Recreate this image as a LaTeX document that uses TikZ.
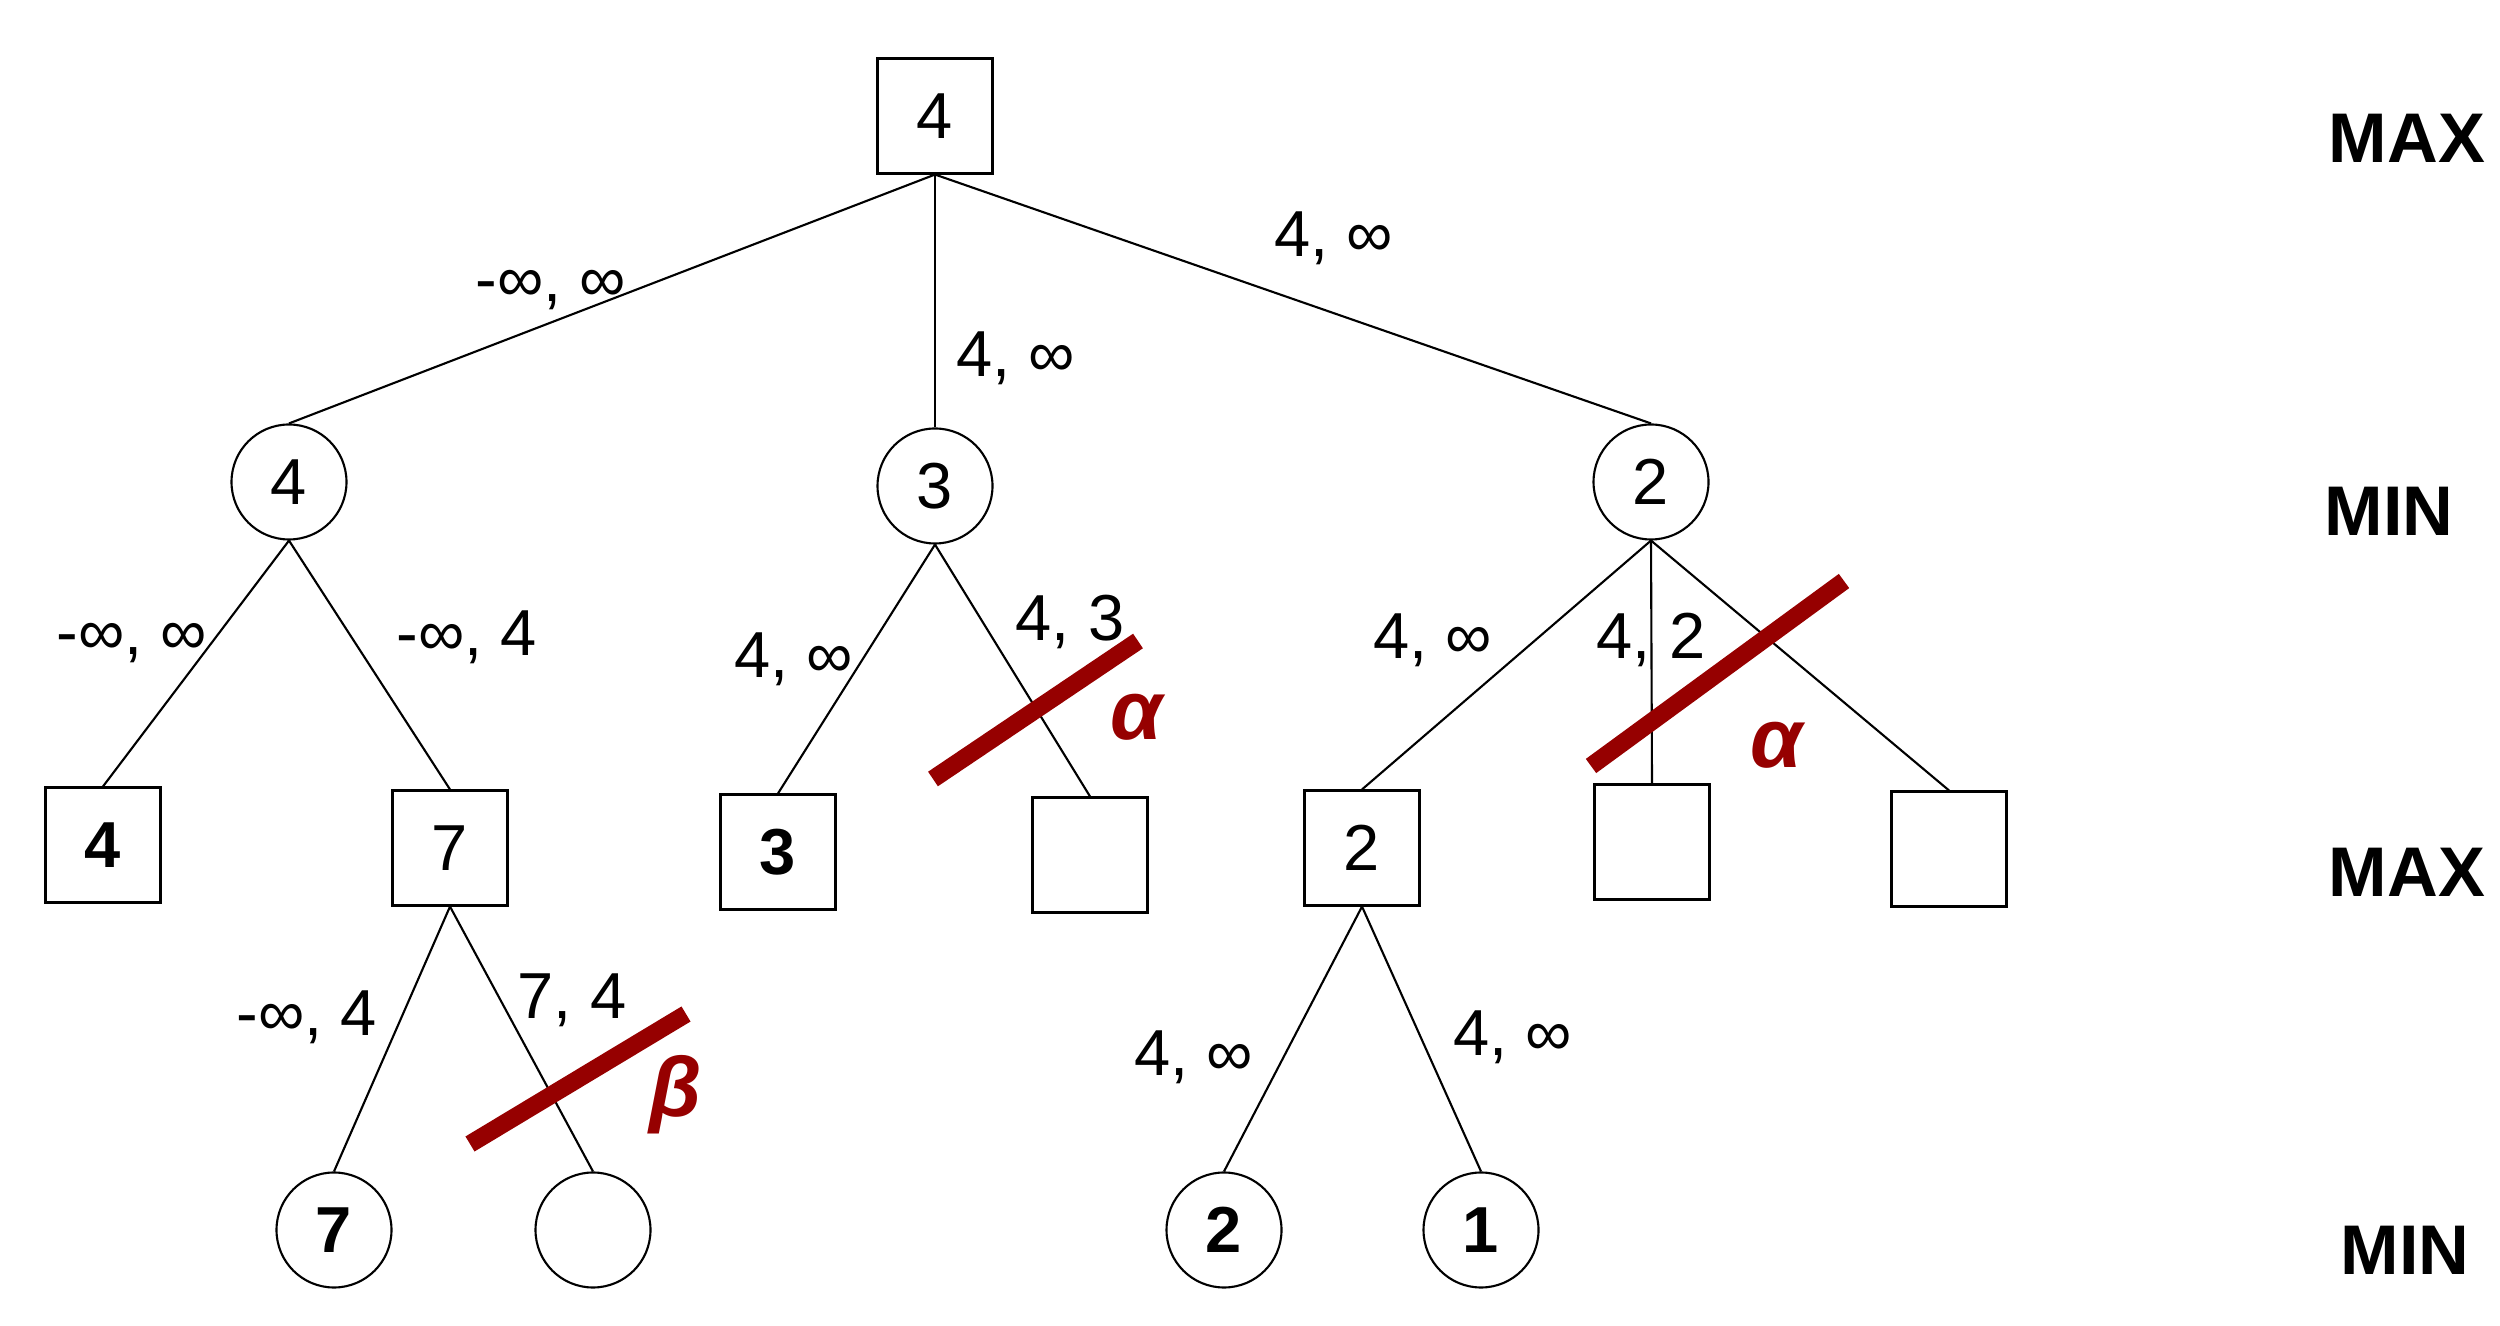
\documentclass[tikz,border=0pt]{standalone}
\usepackage{fontspec}
\setmainfont{Liberation Sans}
\usepackage{tikz}
\definecolor{cutred}{RGB}{150,0,0}
\newcommand{\numfont}{\fontsize{18.5}{22}\selectfont}
\newcommand{\levelfont}{\fontsize{20}{24}\selectfont\bfseries}
\newcommand{\greekfont}{\fontsize{24}{28}\selectfont\bfseries\itshape}
\tikzset{
  maxnode/.style={
    draw,
    rectangle,
    minimum size=11.5mm,
    inner sep=0pt,
    line width=0.6pt,
    font=\numfont
  },
  minnode/.style={
    draw,
    circle,
    minimum size=11.5mm,
    inner sep=0pt,
    line width=0.6pt,
    font=\numfont
  },
  edge/.style={line width=0.6pt},
  lbl/.style={anchor=base, inner sep=0pt, font=\numfont},
  levellbl/.style={inner sep=0pt, font=\levelfont},
  cut/.style={draw=cutred, line width=5pt},
  cutlbl/.style={inner sep=0pt, text=cutred, font=\greekfont}
}

\begin{document}
\begin{tikzpicture}
  \useasboundingbox (0,0) rectangle (25,13.25);

  \node[maxnode] (root) at (9.35,12.09) {4};

  \node[minnode] (m1) at (2.89,8.43) {4};
  \node[minnode] (m2) at (9.35,8.39) {3};
  \node[minnode] (m3) at (16.51,8.43) {2};

  \node[maxnode] (a1) at (1.03,4.80) {\bfseries 4};
  \node[maxnode] (a2) at (4.50,4.77) {7};
  \node[maxnode] (b1) at (7.78,4.73) {\bfseries 3};
  \node[maxnode] (b2) at (10.90,4.70) {};
  \node[maxnode] (c1) at (13.62,4.77) {2};
  \node[maxnode] (c2) at (16.52,4.83) {};
  \node[maxnode] (c3) at (19.49,4.76) {};

  \node[minnode] (a2l) at (3.34,0.95) {\bfseries 7};
  \node[minnode] (a2r) at (5.93,0.95) {};
  \node[minnode] (c1l) at (12.24,0.95) {\bfseries 2};
  \node[minnode] (c1r) at (14.81,0.95) {\bfseries 1};

  \draw[edge] (root.south) -- (m1.north);
  \draw[edge] (root.south) -- (m2.north);
  \draw[edge] (root.south) -- (m3.north);
  \draw[edge] (m1.south) -- (a1.north);
  \draw[edge] (m1.south) -- (a2.north);
  \draw[edge] (m2.south) -- (b1.north);
  \draw[edge] (m2.south) -- (b2.north);
  \draw[edge] (m3.south) -- (c1.north);
  \draw[edge] (m3.south) -- (c2.north);
  \draw[edge] (m3.south) -- (c3.north);
  \draw[edge] (a2.south) -- (a2l.north);
  \draw[edge] (a2.south) -- (a2r.north);
  \draw[edge] (c1.south) -- (c1l.north);
  \draw[edge] (c1.south) -- (c1r.north);

  \node[lbl] (lm1) at (5.51,10.23) {-∞, ∞};
  \node[lbl] (lm2) at (10.16,9.48) {4, ∞};
  \node[lbl] (lm3) at (13.34,10.68) {4, ∞};
  \node[lbl] (la1) at (1.32,6.70) {-∞, ∞};
  \node[lbl] (la2) at (4.67,6.69) {-∞, 4};
  \node[lbl] (lb1) at (7.94,6.47) {4, ∞};
  \node[lbl] (lb2) at (10.70,6.84) {4, 3};
  \node[lbl] (lc1) at (14.33,6.66) {4, ∞};
  \node[lbl] (lc2) at (16.51,6.66) {4, 2};
  \node[lbl] (la2l) at (3.07,2.89) {-∞, 4};
  \node[lbl] (la2r) at (5.72,3.06) {7, 4};
  \node[lbl] (lc1l) at (11.94,2.49) {4, ∞};
  \node[lbl] (lc1r) at (15.13,2.69) {4, ∞};

  \draw[cut] (9.33,5.46) -- (11.38,6.84);
  \draw[cut] (15.91,5.59) -- (18.44,7.44);
  \draw[cut] (4.70,1.81) -- (6.86,3.11);
  \node[cutlbl] (alpha1) at (11.37,6.08) {α};
  \node[cutlbl] (alpha2) at (17.77,5.80) {α};
  \node[cutlbl] (beta) at (6.76,2.30) {β};

  \node[levellbl] (lev0) at (24.07,11.87) {MAX};
  \node[levellbl] (lev1) at (23.89,8.14) {MIN};
  \node[levellbl] (lev2) at (24.07,4.53) {MAX};
  \node[levellbl] (lev3) at (24.05,0.75) {MIN};
\end{tikzpicture}
\end{document}
